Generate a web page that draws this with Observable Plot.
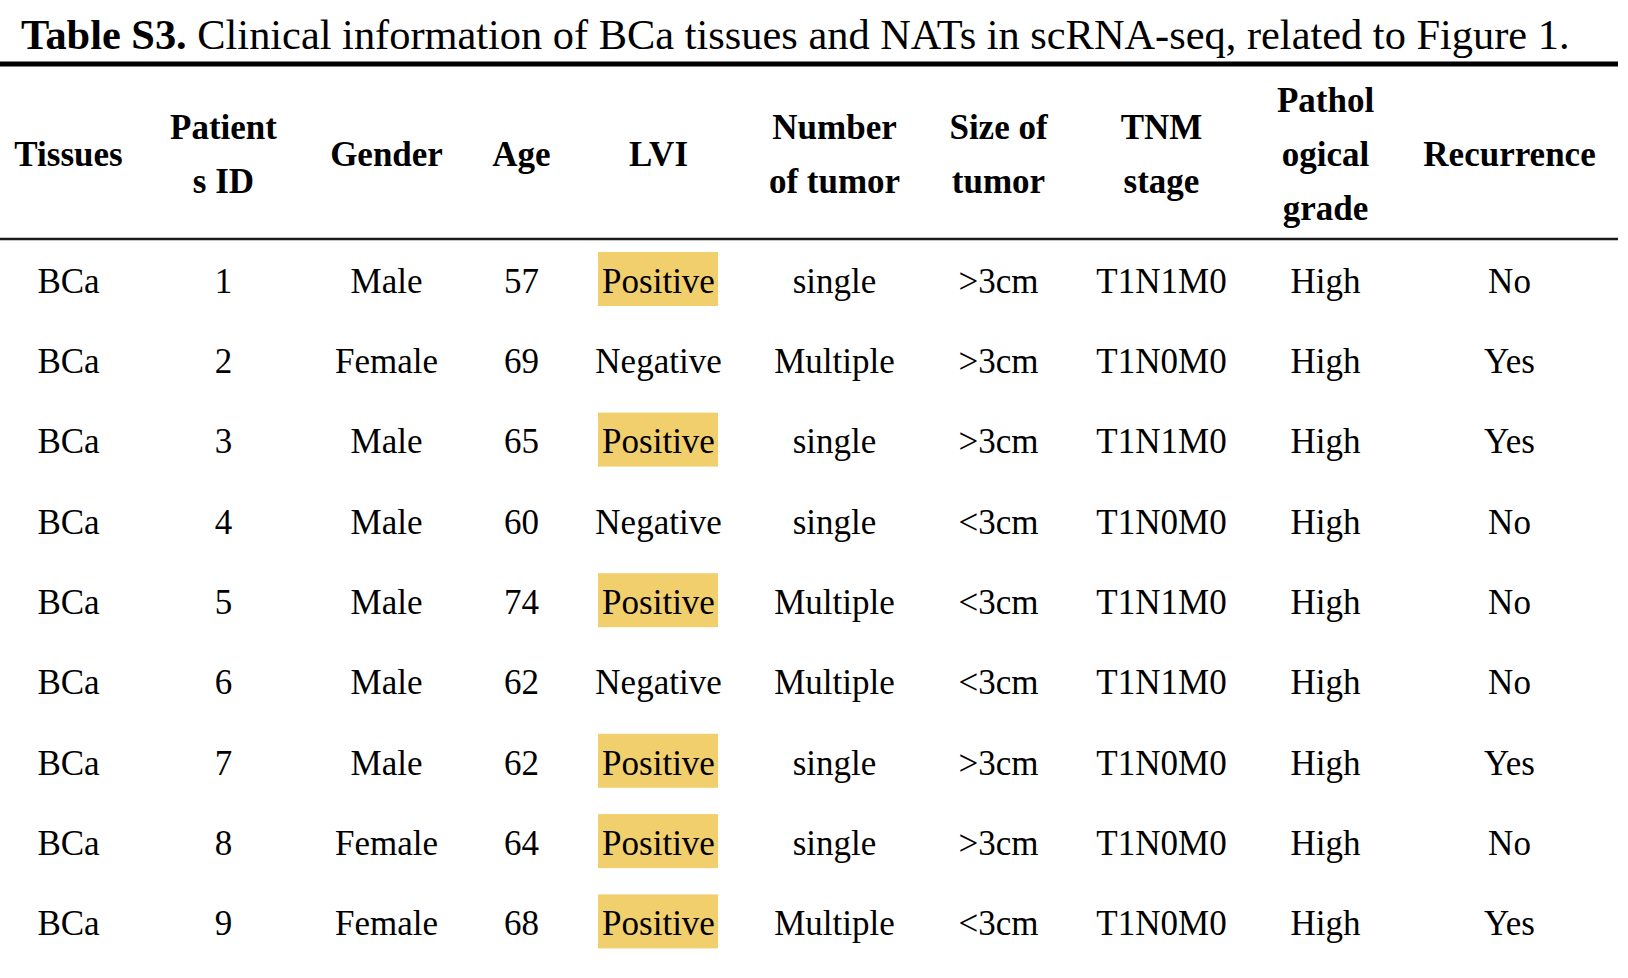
<!DOCTYPE html>
<html>
<head>
<meta charset="utf-8">
<script src="https://cdn.jsdelivr.net/npm/d3@7"></script>
<script src="https://cdn.jsdelivr.net/npm/@observablehq/plot@0.6"></script>
<style>
  html, body { margin: 0; padding: 0; background: #fff; }
  #wrap { position: relative; width: 1628px; height: 978px; }
  #title { position: absolute; left: 21px; top: 14px; font-family: "Liberation Serif", "Times New Roman", serif;
           font-size: 42.4px; line-height: 1; white-space: nowrap; color: #000; }
  #title b { font-weight: bold; }
  #chart { position: absolute; left: 0; top: 0; }
</style>
</head>
<body>
<div id="wrap">
  <div id="chart"></div>
  <div id="title"><b>Table S3.</b> Clinical information of BCa tissues and NATs in scRNA-seq, related to Figure 1.</div>
</div>
<script>
// ---------- data ----------
const headers = ["Tissues", "Patient\ns ID", "Gender", "Age", "LVI", "Number\nof tumor", "Size of\ntumor", "TNM\nstage", "Pathol\nogical\ngrade", "Recurrence"];
const tissues = ["BCa", "BCa", "BCa", "BCa", "BCa", "BCa", "BCa", "BCa", "BCa"];
const patientIds = ["1", "2", "3", "4", "5", "6", "7", "8", "9"];
const genders = ["Male", "Female", "Male", "Male", "Male", "Male", "Male", "Female", "Female"];
const ages = ["57", "69", "65", "60", "74", "62", "62", "64", "68"];
const lvi = ["Positive", "Negative", "Positive", "Negative", "Positive", "Negative", "Positive", "Positive", "Positive"];
const tumorNumber = ["single", "Multiple", "single", "single", "Multiple", "Multiple", "single", "single", "Multiple"];
const tumorSize = [">3cm", ">3cm", ">3cm", "<3cm", "<3cm", "<3cm", ">3cm", ">3cm", "<3cm"];
const tnmStage = ["T1N1M0", "T1N0M0", "T1N1M0", "T1N0M0", "T1N1M0", "T1N1M0", "T1N0M0", "T1N0M0", "T1N0M0"];
const grade = ["High", "High", "High", "High", "High", "High", "High", "High", "High"];
const recurrence = ["No", "Yes", "Yes", "No", "No", "No", "Yes", "No", "Yes"];

// ---------- layout (pixels) ----------
const W = 1628, H = 978;
const colCenters = [68, 223, 386, 521, 658, 834, 998, 1161, 1325, 1509];
const headerY = 148;
const firstRowY = 281, rowStep = 80.3;
const topRuleY = 63.5, headerRuleY = 238.5, ruleX2 = 1618;
const boxHalfW = 60, boxHalfH = 27;
const FONT = "Liberation Serif";

const columns = [tissues, patientIds, genders, ages, lvi, tumorNumber, tumorSize, tnmStage, grade, recurrence];
const cells = [];
columns.forEach((col, c) => col.forEach((v, r) => cells.push({col: c, row: r, text: v})));
const headerCells = headers.map((h, c) => ({col: c, text: h}));
const positives = cells.filter(d => d.col === 4 && d.text === "Positive");

const cx = d => colCenters[d.col];
const ry = d => firstRowY + rowStep * d.row;

const chart = Plot.plot({
  width: W,
  height: H,
  margin: 0,
  style: {background: "#fff"},
  x: {type: "linear", domain: [0, W], range: [0, W], axis: null},
  y: {type: "linear", domain: [0, H], range: [0, H], axis: null},
  marks: [
    Plot.ruleY([topRuleY], {x1: 0, x2: ruleX2, stroke: "#000", strokeWidth: 5}),
    Plot.ruleY([headerRuleY], {x1: 0, x2: ruleX2, stroke: "#1a1a1a", strokeWidth: 2.5}),
    Plot.rect(positives, {
      x1: d => cx(d) - boxHalfW, x2: d => cx(d) + boxHalfW,
      y1: d => ry(d) - boxHalfH - 2, y2: d => ry(d) + boxHalfH - 2,
      fill: "#f2cf6d"
    }),
    Plot.text(headerCells, {
      x: cx, y: () => headerY, text: "text",
      fontFamily: FONT, fontSize: 35, fontWeight: "bold", fill: "#000",
      lineAnchor: "middle", lineHeight: 1.543
    }),
    Plot.text(cells, {
      x: cx, y: ry, text: "text",
      fontFamily: FONT, fontSize: 35, fill: "#000",
      lineAnchor: "middle"
    })
  ]
});
document.getElementById("chart").appendChild(chart);
</script>
</body>
</html>
